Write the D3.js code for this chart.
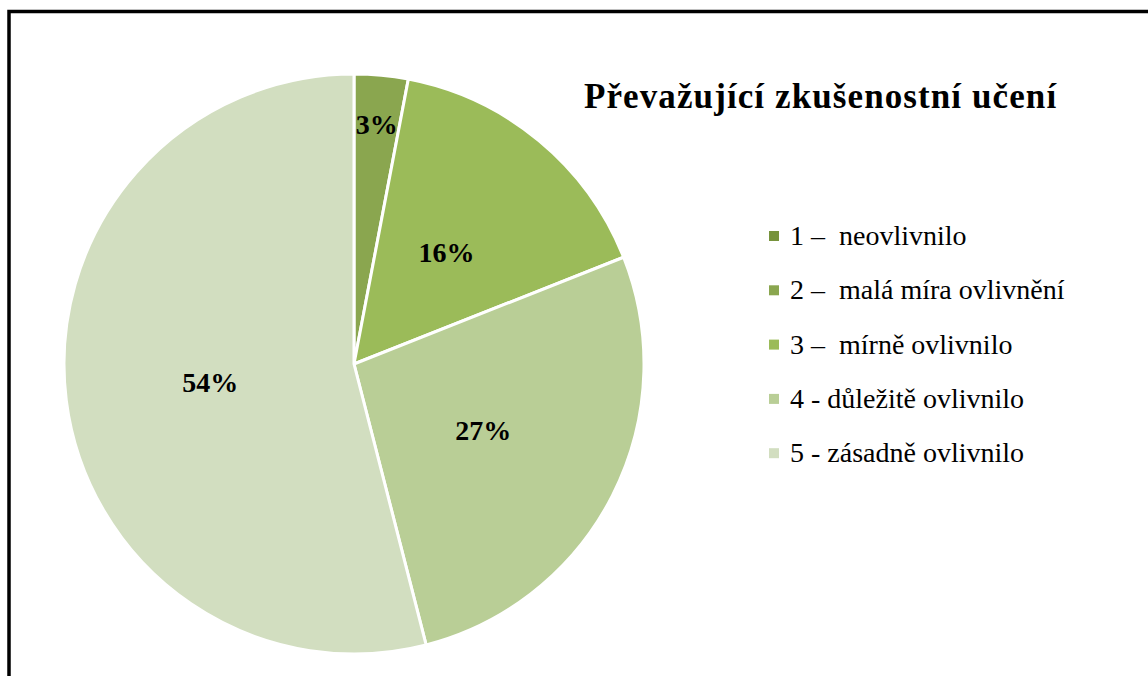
<!DOCTYPE html>
<html>
<head>
<meta charset="utf-8">
<script src="https://cdn.jsdelivr.net/npm/d3@7"></script>
<style>
  body { margin: 0; background: #fff; }
  svg { display: block; }
</style>
</head>
<body>
<svg id="pie-svg" width="1148" height="676"></svg>
<script>
var title = "Převažující zkušenostní učení";
var categories = ["1 –  neovlivnilo", "2 –  malá míra ovlivnění", "3 –  mírně ovlivnilo", "4 - důležitě ovlivnilo", "5 - zásadně ovlivnilo"];
var values = [0, 3, 16, 27, 54];
var colors = ["#77933c", "#8aa64f", "#9bbb59", "#b9ce96", "#d2dec0"];

var FONT = "Liberation Serif";

var svg = d3.select("svg#pie-svg"),
  cx = 354, cy = 364, radius = 290;

// frame (right and bottom edges run off the picture)
svg.append("rect")
  .attr("x", 9).attr("y", 11.5)
  .attr("width", 1160).attr("height", 700)
  .attr("fill", "none")
  .attr("stroke", "#000")
  .attr("stroke-width", 3.5);

var data = categories.map(function(c, i) { return {name: c, value: values[i], color: colors[i]}; });

var pie = d3.pie().sort(null).value(function(d) { return d.value; });
var arc = d3.arc().innerRadius(0).outerRadius(radius);
var arcs = pie(data);

var g = svg.append("g").attr("transform", "translate(" + cx + "," + cy + ")");

g.selectAll("path.slice")
  .data(arcs.filter(function(d) { return d.data.value > 0; }))
  .enter().append("path")
  .attr("class", "slice")
  .attr("d", arc)
  .attr("fill", function(d) { return d.data.color; })
  .attr("stroke", "#fff")
  .attr("stroke-width", 3)
  .attr("stroke-linejoin", "round");

// labels: small slices pushed outward
g.selectAll("text.lbl")
  .data(arcs.filter(function(d) { return d.data.value > 0; }))
  .enter().append("text")
  .attr("class", "lbl")
  .attr("transform", function(d) {
    var r = d.data.value < 5 ? radius * 0.83 : radius * 0.5;
    var a = (d.startAngle + d.endAngle) / 2;
    return "translate(" + (Math.sin(a) * r) + "," + (-Math.cos(a) * r) + ")";
  })
  .attr("text-anchor", "middle")
  .attr("dy", "0.35em")
  .style("font-family", FONT)
  .style("font-size", "28px")
  .style("font-weight", "bold")
  .text(function(d) { return d.data.value + "%"; });

svg.append("text")
  .attr("x", 584).attr("y", 108)
  .style("font-family", FONT)
  .style("font-size", "35px")
  .style("font-weight", "bold")
  .style("letter-spacing", "1.1px")
  .text(title);

var legend = svg.append("g").attr("transform", "translate(769,236)");
var item = legend.selectAll("g.item")
  .data(data)
  .enter().append("g")
  .attr("class", "item")
  .attr("transform", function(d, i) { return "translate(0," + (i * 54.3) + ")"; });

item.append("rect")
  .attr("x", 0).attr("y", -5)
  .attr("width", 10).attr("height", 10)
  .attr("fill", function(d) { return d.color; });

item.append("text")
  .attr("x", 21).attr("y", 9)
  .style("font-family", FONT)
  .style("font-size", "28px")
  .style("white-space", "pre")
  .text(function(d) { return d.name; });
</script>
</body>
</html>
